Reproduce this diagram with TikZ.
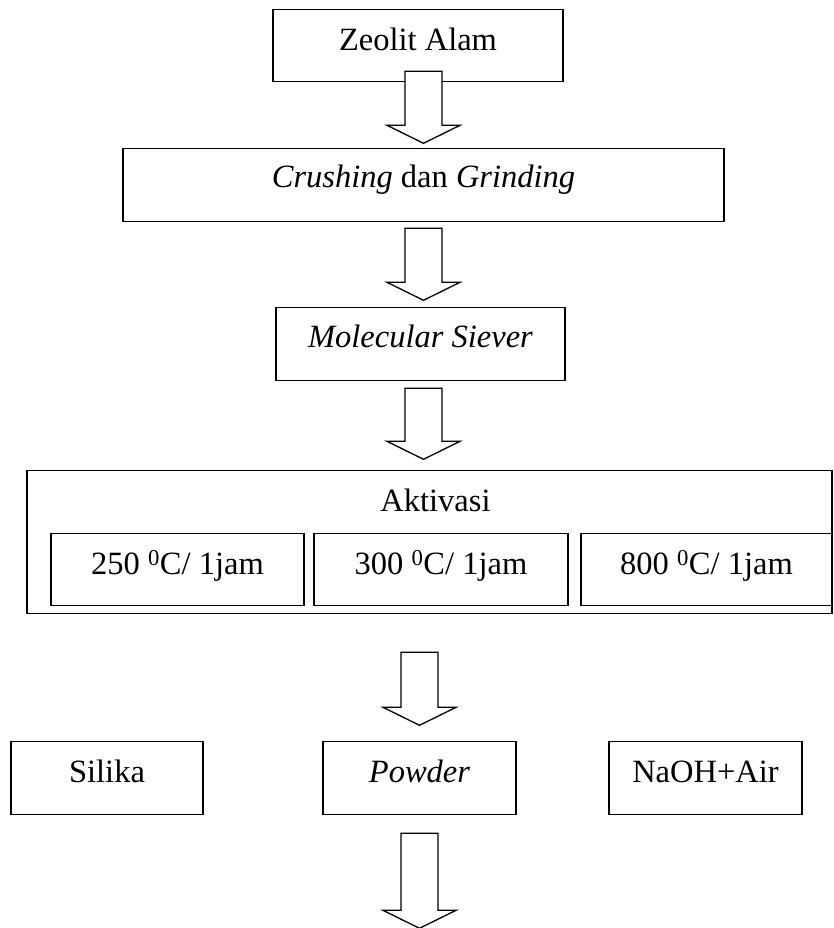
\documentclass[tikz,border=0pt]{standalone}
\usepackage{fontspec}
\setmainfont{Liberation Serif}
\tikzset{
  boxline/.style={draw=black, line width=1.3pt, inner sep=0pt, fill=white},
  stdbox/.style={boxline, anchor=north, minimum height=72pt, text height=41pt, text depth=31pt},
  arrowline/.style={draw=black, line width=1.3pt, fill=white, line join=miter},
  pics/barrow/.style={code={
    \draw[arrowline] (-18.5,0) -- (18.5,0) -- (18.5,#1-18) -- (36.5,#1-18) -- (0,#1)
      -- (-36.5,#1-18) -- (-18.5,#1-18) -- cycle;
  }},
}
\begin{document}
\begin{tikzpicture}[x=1pt, y=-1pt, font=\fontsize{32.5pt}{39pt}\selectfont]
\useasboundingbox (0,0) rectangle (834,928);
% main chain
\node[stdbox, minimum width=290pt] (zeo) at (418,9) {Zeolit Alam};
\node[stdbox, minimum width=601pt, minimum height=73pt, text height=39pt, text depth=34pt] (crush) at (423.5,148) {\textit{Crushing} dan \textit{Grinding}};
\node[stdbox, minimum width=289pt, minimum height=73pt, text height=40pt, text depth=33pt] (mol) at (420.5,307) {\textit{Molecular Siever}};
% activation group
\node[boxline, anchor=north, minimum width=805pt, minimum height=143pt] (akt) at (429.5,470) {};
\node[anchor=base, inner sep=0pt] (aktlabel) at (435.5,511) {Aktivasi};
\node[stdbox, minimum width=253pt] (t250) at (177.5,533) {250 \textsuperscript{0}C/ 1jam};
\node[stdbox, minimum width=254pt] (t300) at (441,533) {300 \textsuperscript{0}C/ 1jam};
\node[stdbox, minimum width=251pt] (t800) at (706.5,533) {800 \textsuperscript{0}C/ 1jam};
% bottom row
\node[stdbox, minimum width=192pt, minimum height=73pt, text depth=32pt] (silika) at (107,741) {Silika};
\node[stdbox, minimum width=193pt, minimum height=73pt, text depth=32pt] (powder) at (419.5,741) {\textit{Powder}};
\node[stdbox, minimum width=193pt, minimum height=73pt, text depth=32pt] (naoh) at (705.5,741) {NaOH+Air};
% block arrows
\pic at ([yshift=11pt]zeo.south -| crush.north) {barrow=72};
\pic at ([yshift=-6pt]crush.south) {barrow=72};
\pic at ([yshift=-7pt]mol.south -| crush.north) {barrow=71};
\pic at ([yshift=-38pt]akt.south -| powder.north) {barrow=73};
\pic at ([yshift=-18pt]powder.south) {barrow=95};
\end{tikzpicture}
\end{document}
